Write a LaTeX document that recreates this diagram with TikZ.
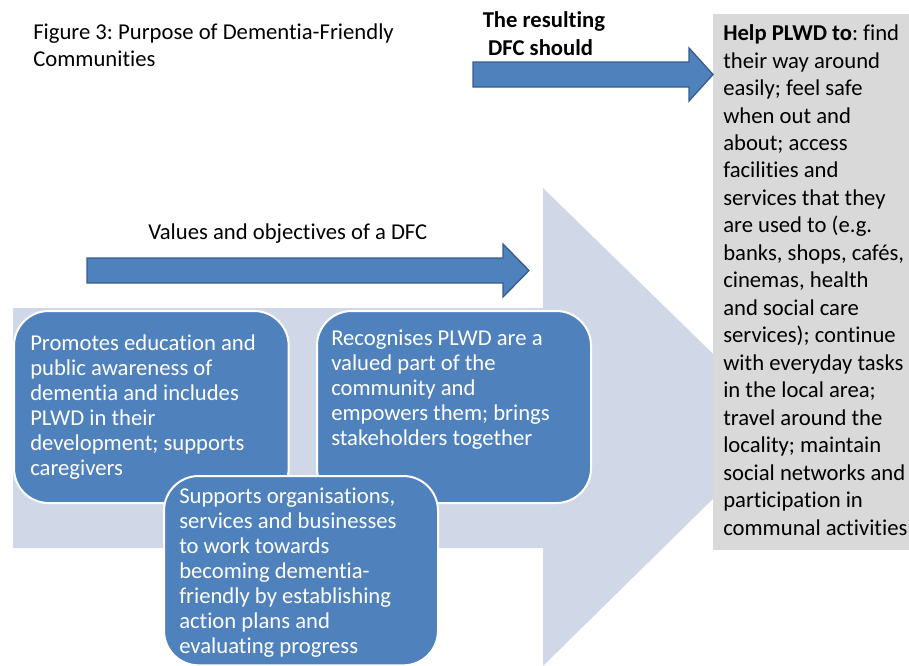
\documentclass[tikz,border=0pt]{standalone}
\usepackage{fontspec}
\setmainfont{Carlito}[Ligatures=NoCommon]
\frenchspacing

\definecolor{boxblue}{HTML}{4F81BD}
\definecolor{arrowline}{HTML}{385D8A}
\definecolor{bigarrow}{HTML}{D0D8E8}
\definecolor{outcomegray}{HTML}{D9D9D9}

\begin{document}
\begin{tikzpicture}[x=0.75pt, y=-0.75pt,
    every node/.style={inner sep=0pt},
    bluebox/.style={draw=white, line width=1.5pt, fill=boxblue, rounded corners=26pt, anchor=north west},
    boxtext/.style={anchor=base west, align=left, text=white, font=\fontsize{17}{18.75}\selectfont},
    plaintext/.style={anchor=base west, align=left, font=\fontsize{17}{20.4}\selectfont},
    bluearrow/.style={fill=boxblue, draw=arrowline, line width=1pt}]
    \useasboundingbox (0,0) rectangle (909,665);

    % Arrows
    \fill[bigarrow] (13,308) -- (543,308) -- (543,188) -- (787,426) -- (543,666) -- (543,548) -- (13,548) -- cycle;
    \draw[bluearrow] (87,258) -- (503,258) -- (503,244) -- (529,270.5) -- (503,297) -- (503,283) -- (87,283) -- cycle;

    % Nodes (text nodes sit on the baseline of their last line)
    \node (promotebox) [bluebox, minimum width=206pt, minimum height=144pt] at (13,310) {};
    \node (recognisebox) [bluebox, minimum width=205.5pt, minimum height=144pt] at (316,310) {};
    \node (supportbox) [bluebox, minimum width=205.5pt, minimum height=142pt] at (163,475) {};
    \node (outcomebox) [fill=outcomegray, anchor=north west, minimum width=147pt, minimum height=402pt] at (713,14) {};
    \draw[bluearrow] (473,62) -- (689,62) -- (689,48) -- (713,74.5) -- (689,101) -- (689,87) -- (473,87) -- cycle;

    \node (promote) [boxtext] at (30,475) {Promotes education and\\public awareness of\\dementia and includes\\PLWD in their\\development; supports\\caregivers};
    \node (recognise) [boxtext] at (331,445) {Recognises PLWD are a\\valued part of the\\community and\\empowers them; brings\\stakeholders together};
    \node (support) [boxtext] at (179,653) {Supports organisations,\\services and businesses\\to work towards\\becoming dementia-\\friendly by establishing\\action plans and\\evaluating progress};
    \node (outcome) [plaintext, font=\fontsize{17}{20.6}\selectfont] at (723,535) {\textbf{Help PLWD to}: find\\their way around\\easily; feel safe\\when out and\\about; access\\facilities and\\services that they\\are used to (e.g.\\banks, shops, caf\'es,\\cinemas, health\\and social care\\services); continue\\with everyday tasks\\in the local area;\\travel around the\\locality; maintain\\social networks and\\participation in\\communal activities};

    \node (caption) [plaintext, font=\fontsize{17}{20.25}\selectfont] at (33,66.5) {Figure 3: Purpose of Dementia-Friendly\\Communities};
    \node (resulting) [plaintext, font=\fontsize{17}{20.8}\bfseries] at (482.5,55.2) {The resulting\\\hspace*{4pt}DFC should};
    \node (values) [plaintext] at (148,239) {Values and objectives of a DFC};
\end{tikzpicture}
\end{document}
